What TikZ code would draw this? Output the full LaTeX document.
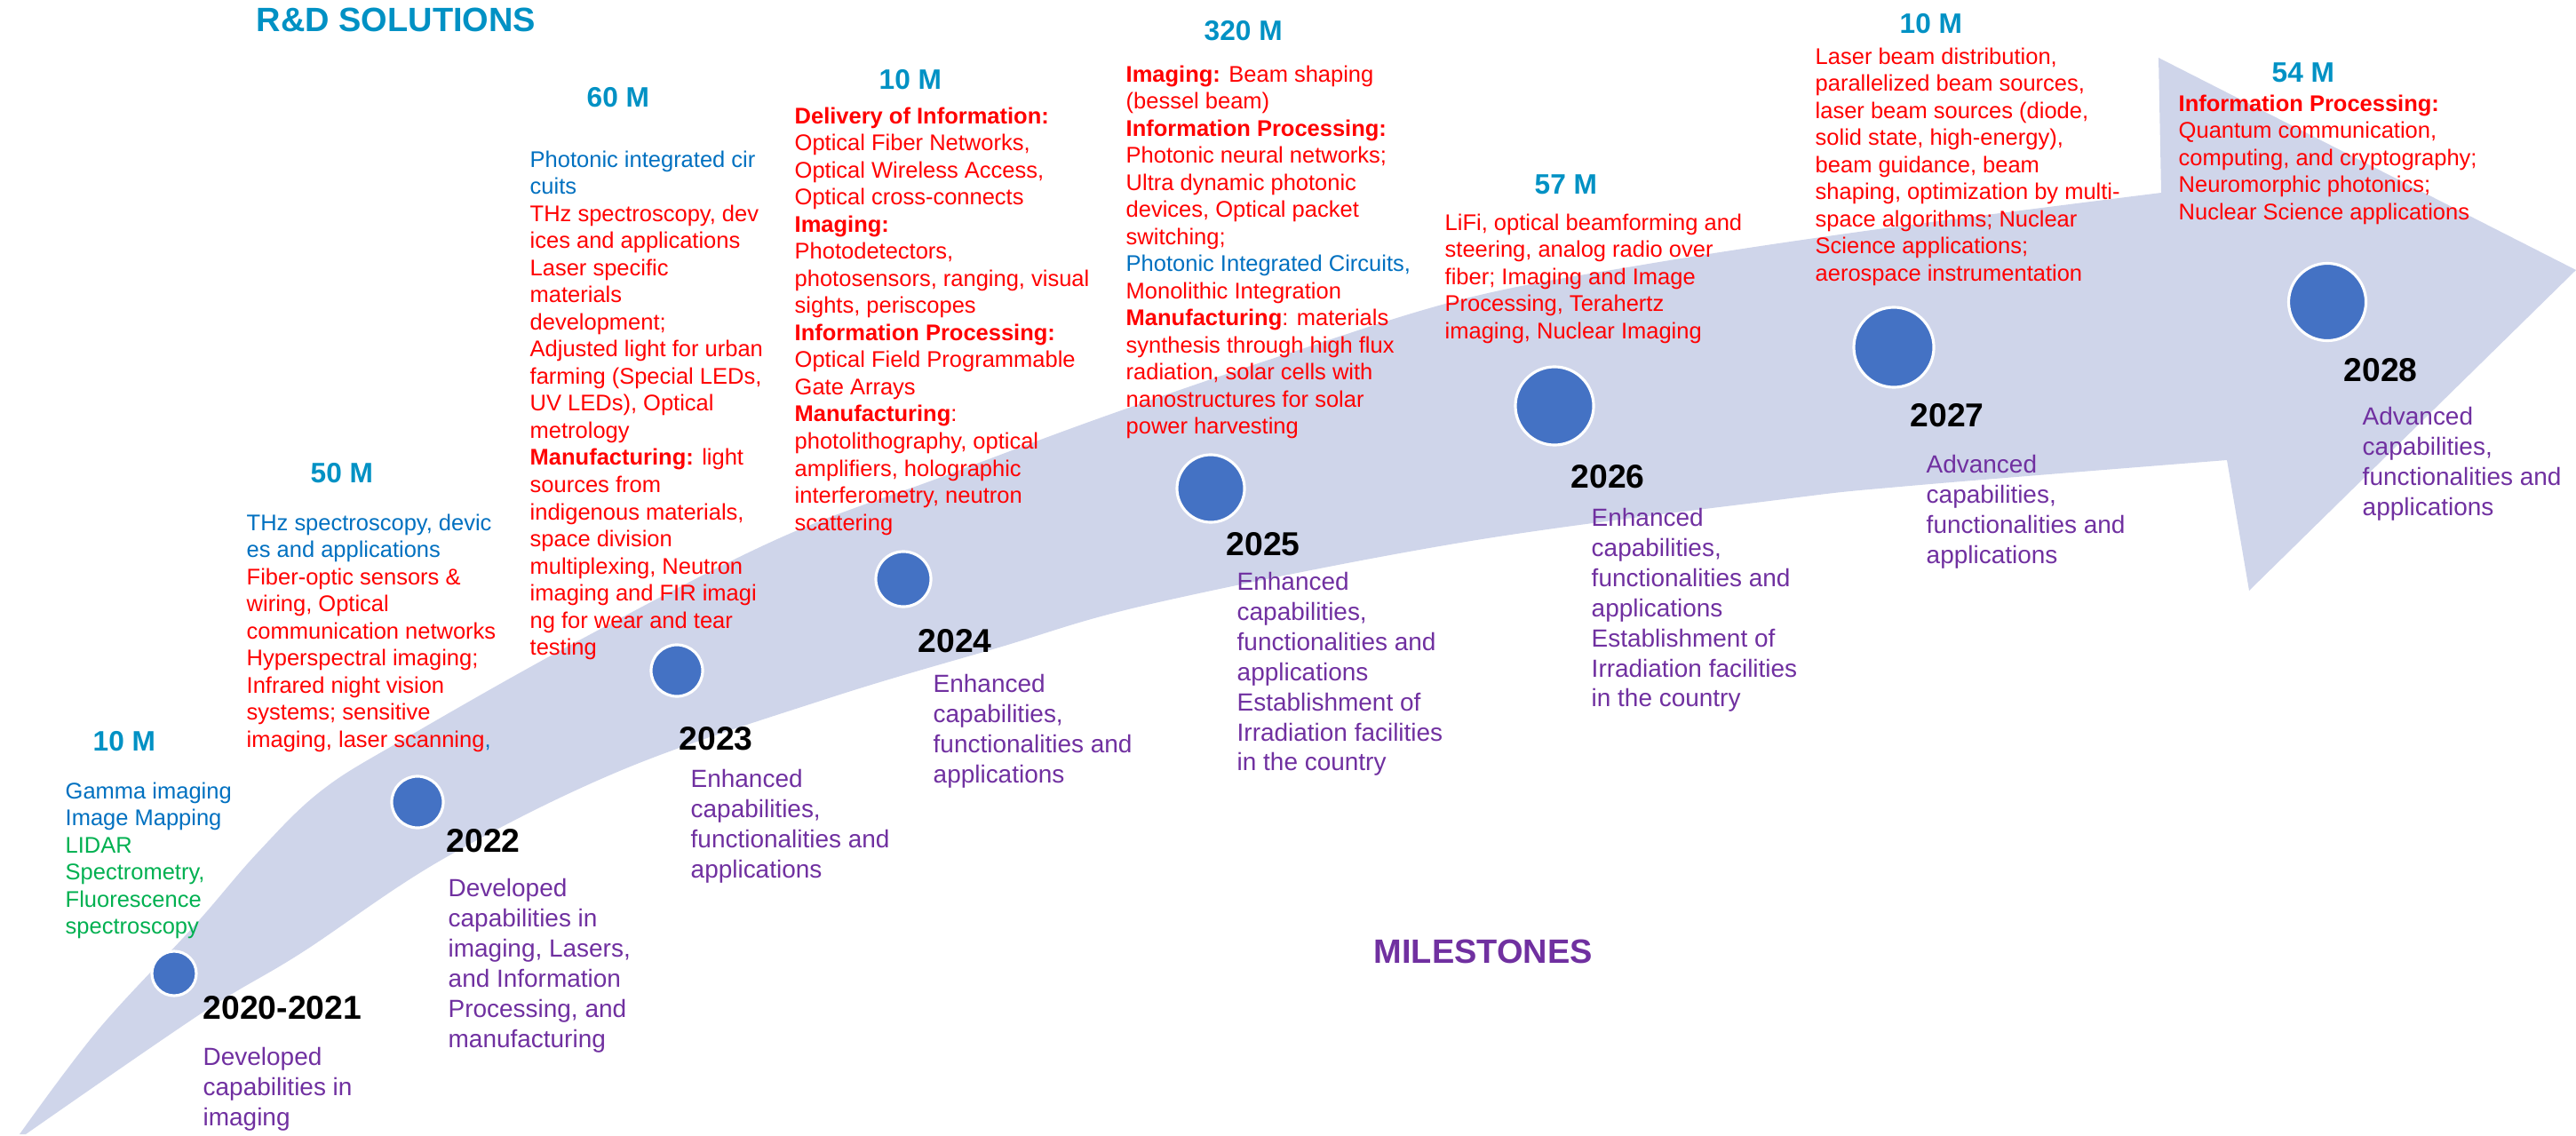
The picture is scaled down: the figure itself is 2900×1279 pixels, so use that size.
\documentclass[tikz,border=0pt]{standalone}
\usepackage{fontspec}
\setmainfont{Liberation Sans}
\usetikzlibrary{positioning}

\definecolor{amtblue}{RGB}{0,145,196}
\definecolor{txtblue}{RGB}{0,112,192}
\definecolor{txtred}{RGB}{255,0,0}
\definecolor{txtgreen}{RGB}{0,176,80}
\definecolor{mspurple}{RGB}{112,48,160}
\definecolor{bandfill}{RGB}{207,213,234}
\definecolor{dotfill}{RGB}{68,114,196}

\tikzset{
  amount/.style={anchor=west, inner sep=0pt, text=amtblue, font=\fontsize{9}{10}\selectfont\bfseries},
  solution/.style={anchor=north west, inner sep=0pt, align=left, text=txtred, font=\fontsize{7.25}{8.68}\selectfont},
  year/.style={anchor=west, inner sep=0pt, font=\fontsize{10.6}{12}\selectfont\bfseries},
  milestone/.style={anchor=north west, inner sep=0pt, align=left, text=mspurple, font=\fontsize{7.95}{9.62}\selectfont},
  mdot/.style={circle, fill=dotfill, draw=white, line width=0.9pt, inner sep=0pt, minimum size=#1},
  heading/.style={anchor=west, inner sep=0pt, font=\fontsize{10.8}{12}\selectfont\bfseries}
}

\begin{document}
\begin{tikzpicture}[x=0.01cm, y=-0.01cm]
	\useasboundingbox (0,0) rectangle (2900,1279);

	% Band with arrow head
	\fill[bandfill] plot[smooth, tension=0.6] coordinates {(22,1277) (110,1160) (218,1043) (290,960) (362,890) (455,832) (650,722) (875,607) (1060,537) (1240,470) (1450,398) (1650,336) (1850,298) (2100,260) (2433,217)}
		-- (2430,65) -- (2900,304) -- (2532,665) -- (2507,518)
		-- plot[smooth, tension=0.6] coordinates {(2507,518) (2150,547) (2000,563) (1650,610) (1300,679) (1121,730) (930,787) (700,867) (499,967) (339,1073) (228,1140) (29,1277)} -- cycle;

	% Headings
	\node (rdhead) at (288,22) [heading, text=amtblue] {R\&D SOLUTIONS};
	\node (mshead) at (1546,1071) [heading, text=mspurple] {MILESTONES};

	% Milestone dots
	\node (dot2020) at (196,1096) [mdot=0.5cm] {};
	\node (dot2022) at (470,903) [mdot=0.58cm] {};
	\node (dot2023) at (762,755) [mdot=0.58cm] {};
	\node (dot2024) at (1017,652) [mdot=0.62cm] {};
	\node (dot2025) at (1363,550) [mdot=0.76cm] {};
	\node (dot2026) at (1750,457) [mdot=0.88cm] {};
	\node (dot2027) at (2132,391) [mdot=0.9cm] {};
	\node (dot2028) at (2620,340) [mdot=0.87cm] {};

	% Funding
	\node (amt2020) at (104,835) [amount] {10 M};
	\node (amt2022) at (349,533) [amount] {50 M};
	\node (amt2023) at (660,110) [amount] {60 M};
	\node (amt2024) at (989,90) [amount] {10 M};
	\node (amt2025) at (1355,35) [amount] {320 M};
	\node (amt2026) at (1727,208) [amount] {57 M};
	\node (amt2027) at (2138,27) [amount] {10 M};
	\node (amt2028) at (2557,82) [amount] {54 M};

	% R&D solutions
	\node (sol2020) at (73,880) [solution, text=txtgreen] {\textcolor{txtblue}{Gamma imaging}\\ \textcolor{txtblue}{Image Mapping}\\ LIDAR\\ Spectrometry,\\ Fluorescence\\ spectroscopy};
	\node (sol2022) at (277,578) [solution] {\textcolor{txtblue}{THz spectroscopy, devic}\\ \textcolor{txtblue}{es and applications}\\ Fiber-optic sensors \&\\ wiring, Optical\\ communication networks\\ Hyperspectral imaging;\\ Infrared night vision\\ systems; sensitive\\ imaging, laser scanning\textcolor{txtblue}{,}};
	\node (sol2023) at (596,169) [solution] {\textcolor{txtblue}{Photonic integrated cir}\\ \textcolor{txtblue}{cuits}\\ THz spectroscopy, dev\\ ices and applications\\ Laser specific\\ materials\\ development;\\ Adjusted light for urban\\ farming (Special LEDs,\\ UV LEDs), Optical\\ metrology\\ \textbf{Manufacturing:} light\\ sources from\\ indigenous materials,\\ space division\\ multiplexing, Neutron\\ imaging and FIR imagi\\ ng for wear and tear\\ testing};
	\node (sol2024) at (894,120) [solution] {\textbf{Delivery of Information:}\\ Optical Fiber Networks,\\ Optical Wireless Access,\\ Optical cross-connects\\ \textbf{Imaging:}\\ Photodetectors,\\ photosensors, ranging, visual\\ sights, periscopes\\ \textbf{Information Processing:}\\ Optical Field Programmable\\ Gate Arrays\\ \textbf{Manufacturing}:\\ photolithography, optical\\ amplifiers, holographic\\ interferometry, neutron\\ scattering};
	\node (sol2025) at (1267,73) [solution] {\textbf{Imaging:} Beam shaping\\ (bessel beam)\\ \textbf{Information Processing:}\\ Photonic neural networks;\\ Ultra dynamic photonic\\ devices, Optical packet\\ switching;\\ \textcolor{txtblue}{Photonic Integrated Circuits,}\\ Monolithic Integration\\ \textbf{Manufacturing}: materials\\ synthesis through high flux\\ radiation, solar cells with\\ nanostructures for solar\\ power harvesting};
	\node (sol2026) at (1626,240) [solution] {LiFi, optical beamforming and\\ steering, analog radio over\\ fiber; Imaging and Image\\ Processing, Terahertz\\ imaging, Nuclear Imaging};
	\node (sol2027) at (2043,53) [solution] {Laser beam distribution,\\ parallelized beam sources,\\ laser beam sources (diode,\\ solid state, high-energy),\\ beam guidance, beam\\ shaping, optimization by multi-\\ space algorithms; Nuclear\\ Science applications;\\ aerospace instrumentation};
	\node (sol2028) at (2452,106) [solution] {\textbf{Information Processing:}\\ Quantum communication,\\ computing, and cryptography;\\ Neuromorphic photonics;\\ Nuclear Science applications};

	% Years
	\node (yr2020) at (228,1135) [year] {2020-2021};
	\node (yr2022) at (502,947) [year] {2022};
	\node (yr2023) at (764,832) [year] {2023};
	\node (yr2024) at (1033,722) [year] {2024};
	\node (yr2025) at (1380,613) [year] {2025};
	\node (yr2026) at (1768,537) [year] {2026};
	\node (yr2027) at (2150,468) [year] {2027};
	\node (yr2028) at (2638,417) [year] {2028};

	% Milestones
	\node (ms2020) at (228,1179) [milestone] {Developed\\ capabilities in\\ imaging};
	\node (ms2022) at (504,989) [milestone] {Developed\\ capabilities in\\ imaging, Lasers,\\ and Information\\ Processing, and\\ manufacturing};
	\node (ms2023) at (777,866) [milestone] {Enhanced\\ capabilities,\\ functionalities and\\ applications};
	\node (ms2024) at (1050,759) [milestone] {Enhanced\\ capabilities,\\ functionalities and\\ applications};
	\node (ms2025) at (1392,644) [milestone] {Enhanced\\ capabilities,\\ functionalities and\\ applications\\ Establishment of\\ Irradiation facilities\\ in the country};
	\node (ms2026) at (1791,572) [milestone] {Enhanced\\ capabilities,\\ functionalities and\\ applications\\ Establishment of\\ Irradiation facilities\\ in the country};
	\node (ms2027) at (2168,512) [milestone] {Advanced\\ capabilities,\\ functionalities and\\ applications};
	\node (ms2028) at (2659,458) [milestone] {Advanced\\ capabilities,\\ functionalities and\\ applications};
\end{tikzpicture}
\end{document}
